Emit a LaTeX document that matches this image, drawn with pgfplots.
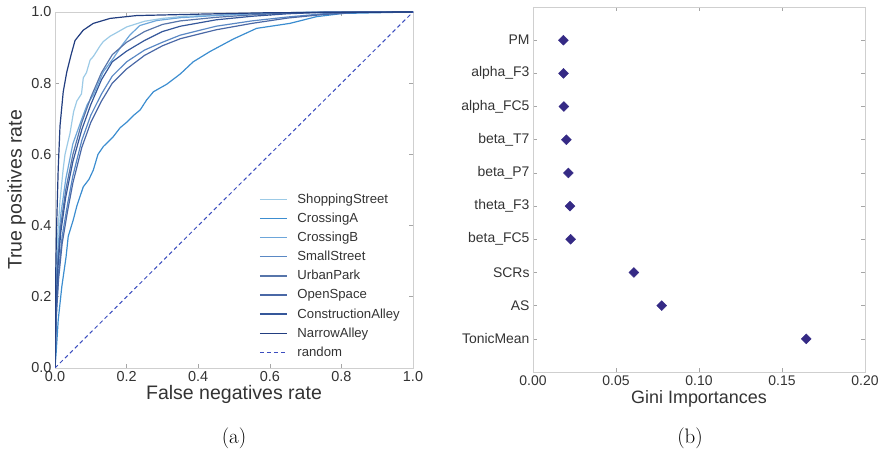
\documentclass[border=0pt]{standalone}
\usepackage{pgfplots}
\pgfplotsset{compat=1.18}
\usepackage{fontspec}
\newfontfamily\arial{Liberation Sans}

\definecolor{cShop}{HTML}{9CCAE6}
\definecolor{cCrossA}{HTML}{3C8DD0}
\definecolor{cCrossB}{HTML}{6DA6DA}
\definecolor{cSmall}{HTML}{5A88C4}
\definecolor{cUrban}{HTML}{5775AA}
\definecolor{cOpen}{HTML}{4A68A6}
\definecolor{cConstr}{HTML}{35579A}
\definecolor{cNarrow}{HTML}{223E80}
\definecolor{cRandom}{HTML}{3B4DBF}
\definecolor{cMark}{HTML}{352A85}
\definecolor{frame}{HTML}{CFCFCF}

\pgfplotsset{
  paper/.style={
    scale only axis,
    axis line style={draw=frame, line width=0.9bp},
    tick style={draw=gray!70, line width=0.6bp},
    major tick length=4bp,
    tick align=inside,
    /pgf/number format/assume math mode=true,
    label style={font=\arial\fontsize{18}{21}\selectfont, text=black!80},
  }
}

\begin{document}
\begin{tikzpicture}
\path[use as bounding box] (0bp,0bp) rectangle (881bp,456bp);

% (a) ROC curves
\begin{axis}[paper,
  at={(55bp,88bp)}, anchor=south west,
  width=358bp, height=356bp,
  xmin=0, xmax=1, ymin=0, ymax=1,
  xtick={0,0.2,...,1}, ytick={0,0.2,...,1},
  ticklabel style={font=\arial\fontsize{14.5}{17}\selectfont, text=black!80,
    /pgf/number format/.cd, fixed, fixed zerofill, precision=1},
  xlabel={False negatives rate},
  ylabel={True positives rate},
  label style={font=\arial\fontsize{19.6}{22}\selectfont},
  xlabel style={yshift=3bp},
  ylabel style={yshift=-1bp},
  every axis plot/.append style={line width=1.2bp},
  legend style={at={(0.57,0.022)}, anchor=south west, draw=none, fill=none,
    font=\arial\fontsize{13.2}{15}\selectfont, text=black!80,
    row sep=4.2bp, inner sep=0bp},
  legend cell align=left,
  legend image code/.code={\draw[#1, line width=1.2bp] (0bp,0bp) -- (27bp,0bp); \path (35bp,0bp);},
]
\addplot[cShop] coordinates {(0,0)(0.002,0.2)(0.006,0.35)(0.014,0.47)(0.023,0.56)(0.028,0.6)(0.042,0.66)(0.052,0.72)(0.061,0.75)(0.074,0.77)(0.079,0.815)(0.088,0.83)(0.098,0.865)(0.107,0.875)(0.126,0.905)(0.135,0.917)(0.154,0.932)(0.172,0.942)(0.2,0.958)(0.25,0.974)(0.3,0.982)(0.36,0.988)(0.5,0.993)(0.6,0.997)(0.75,1)(1,1)};
\addlegendentry{ShoppingStreet}
\addplot[cCrossA] coordinates {(0,0)(0.003,0.04)(0.009,0.135)(0.019,0.228)(0.031,0.313)(0.037,0.37)(0.051,0.416)(0.061,0.455)(0.079,0.509)(0.095,0.53)(0.107,0.556)(0.12,0.6)(0.135,0.622)(0.163,0.65)(0.182,0.675)(0.2,0.69)(0.22,0.71)(0.238,0.725)(0.256,0.753)(0.275,0.776)(0.312,0.797)(0.35,0.826)(0.386,0.86)(0.433,0.889)(0.498,0.924)(0.563,0.954)(0.656,0.968)(0.731,0.987)(0.805,0.996)(1,1)};
\addlegendentry{CrossingA}
\addplot[cCrossB] coordinates {(0,0)(0.003,0.2)(0.008,0.33)(0.016,0.43)(0.03,0.53)(0.05,0.63)(0.075,0.7)(0.09,0.74)(0.107,0.767)(0.135,0.832)(0.163,0.87)(0.186,0.905)(0.209,0.935)(0.237,0.962)(0.284,0.976)(0.35,0.984)(0.45,0.99)(0.55,0.995)(0.7,0.999)(1,1)};
\addlegendentry{CrossingB}
\addplot[cSmall] coordinates {(0,0)(0.004,0.16)(0.01,0.27)(0.02,0.37)(0.035,0.46)(0.05,0.54)(0.075,0.64)(0.1,0.71)(0.13,0.77)(0.16,0.82)(0.2,0.86)(0.25,0.893)(0.3,0.915)(0.35,0.935)(0.45,0.96)(0.55,0.975)(0.65,0.986)(0.75,0.995)(0.85,1)(1,1)};
\addlegendentry{SmallStreet}
\addplot[cUrban] coordinates {(0,0)(0.003,0.18)(0.008,0.3)(0.016,0.4)(0.03,0.5)(0.05,0.6)(0.075,0.69)(0.1,0.76)(0.13,0.83)(0.16,0.88)(0.2,0.915)(0.25,0.945)(0.3,0.965)(0.35,0.975)(0.45,0.985)(0.55,0.992)(0.65,0.997)(0.75,1)(1,1)};
\addlegendentry{UrbanPark}
\addplot[cOpen] coordinates {(0,0)(0.004,0.15)(0.01,0.25)(0.02,0.35)(0.035,0.44)(0.05,0.52)(0.075,0.62)(0.1,0.69)(0.13,0.75)(0.16,0.8)(0.2,0.84)(0.25,0.878)(0.3,0.905)(0.35,0.925)(0.45,0.95)(0.55,0.968)(0.65,0.983)(0.75,0.993)(0.85,0.999)(1,1)};
\addlegendentry{OpenSpace}
\addplot[cConstr] coordinates {(0,0)(0.003,0.17)(0.008,0.28)(0.016,0.38)(0.03,0.48)(0.05,0.58)(0.075,0.67)(0.1,0.74)(0.13,0.81)(0.16,0.86)(0.2,0.89)(0.25,0.92)(0.3,0.945)(0.35,0.96)(0.45,0.978)(0.55,0.988)(0.65,0.995)(0.75,0.999)(1,1)};
\addlegendentry{ConstructionAlley}
\addplot[cNarrow] coordinates {(0,0)(0.001,0.2)(0.004,0.38)(0.009,0.56)(0.014,0.68)(0.023,0.776)(0.033,0.832)(0.045,0.88)(0.056,0.92)(0.079,0.949)(0.107,0.968)(0.154,0.982)(0.228,0.99)(0.405,0.994)(0.6,0.998)(1,1)};
\addlegendentry{NarrowAlley}
\addplot[cRandom, line width=1bp, dash pattern=on 4bp off 3bp] coordinates {(0,0)(1,1)};
\addlegendentry{random}
\end{axis}

% (b) Gini importances
\begin{axis}[paper,
  at={(533bp,84bp)}, anchor=south west,
  width=332bp, height=365bp,
  xmin=0, xmax=0.2, ymin=-1, ymax=10,
  xtick={0,0.05,...,0.2},
  ytick={0,...,9},
  yticklabels={TonicMean,AS,SCRs,beta\_FC5,theta\_F3,beta\_P7,beta\_T7,alpha\_FC5,alpha\_F3,PM},
  xticklabel style={/pgf/number format/.cd, fixed, fixed zerofill, precision=2},
  ticklabel style={font=\arial\fontsize{14}{17}\selectfont, text=black!80},
  scaled x ticks=false,
  xlabel={Gini Importances},
  xlabel style={yshift=2bp},
]
\addplot[only marks, mark=square*, mark size=3.5bp,
  mark options={rotate=45, fill=cMark, draw=cMark}] coordinates {
  (0.0183,9) (0.0184,8) (0.0186,7) (0.0201,6) (0.0213,5)
  (0.0223,4) (0.0227,3) (0.0608,2) (0.0775,1) (0.1646,0)};
\end{axis}

\node[anchor=base, font=\fontsize{21}{24}\selectfont] at (234bp,13bp) {(a)};
\node[anchor=base, font=\fontsize{21}{24}\selectfont] at (690bp,13bp) {(b)};
\end{tikzpicture}
\end{document}
